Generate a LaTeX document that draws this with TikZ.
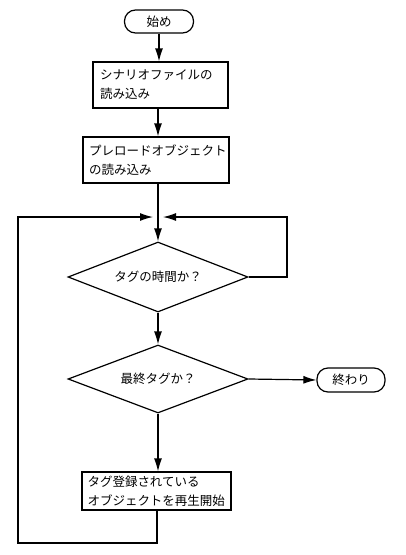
\documentclass[tikz,border=0pt]{standalone}
\usepackage{fontspec}
\newfontfamily\jp{Noto Sans CJK JP}
\usetikzlibrary{shapes.geometric,arrows.meta}
\tikzset{
  every node/.style={font=\jp\fontsize{12.5}{19}\selectfont},
  term/.style={draw, line width=1.2pt, rounded corners=11pt, minimum height=23pt, inner sep=0pt},
  proc/.style={draw, line width=1.2pt, minimum height=46pt, align=left, inner sep=0pt},
  dec/.style={draw, line width=1.2pt, diamond, aspect=2.6, minimum width=180pt, minimum height=70pt, inner sep=0pt},
  conn/.style={line width=1.2pt},
  arr/.style={conn, -{Latex[length=13pt,width=8pt]}}
}
\begin{document}
\begin{tikzpicture}[x=1pt,y=1pt]
\useasboundingbox[fill=white] (0,0) rectangle (405,-555);
\node[term, minimum width=69pt] (start) at (159,-21.5) {始め};
\node[proc, minimum width=135pt, text width=121pt] (b1) at (160.5,-85) {シナリオファイルの\\読み込み};
\node[proc, minimum width=146pt, text width=134pt] (b2) at (156,-160) {プレロードオブジェクト\\の読み込み};
\node[dec] (d1) at (158,-277) {タグの時間か？};
\node[dec, minimum height=68pt] (d2) at (158,-379) {最終タグか？};
\node[term, minimum width=68pt, minimum height=24pt] (end) at (351,-380) {終わり};
\node[proc, minimum width=149pt, minimum height=38pt, text width=138pt] (b3) at (156.5,-491) {タグ登録されている\\オブジェクトを再生開始};
\coordinate (j) at (158,-217);
\coordinate (jl) at (153,-217);
\coordinate (jr) at (163,-217);
\coordinate (bl) at (18,-543);
\coordinate (tr) at (287,-217);
\draw[arr] (start.south -| 159,0) -- (b1.north -| 159,0);
\draw[arr] (b1.south -| 158,0) -- (b2.north -| 158,0);
\draw[conn] (b2.south -| j) -- (j);
\draw[arr] (j) -- (d1.north);
\draw[arr] (d1.south) -- (d2.north);
\draw[arr] (d2.east) -- (end.west);
\draw[arr] (d2.south) -- (b3.north -| d2.south);
\draw[arr] (b3.south -| 157,0) |- (bl) |- (jl);
\draw[arr] (d1.east) -| (tr) -- (jr);
\end{tikzpicture}
\end{document}
